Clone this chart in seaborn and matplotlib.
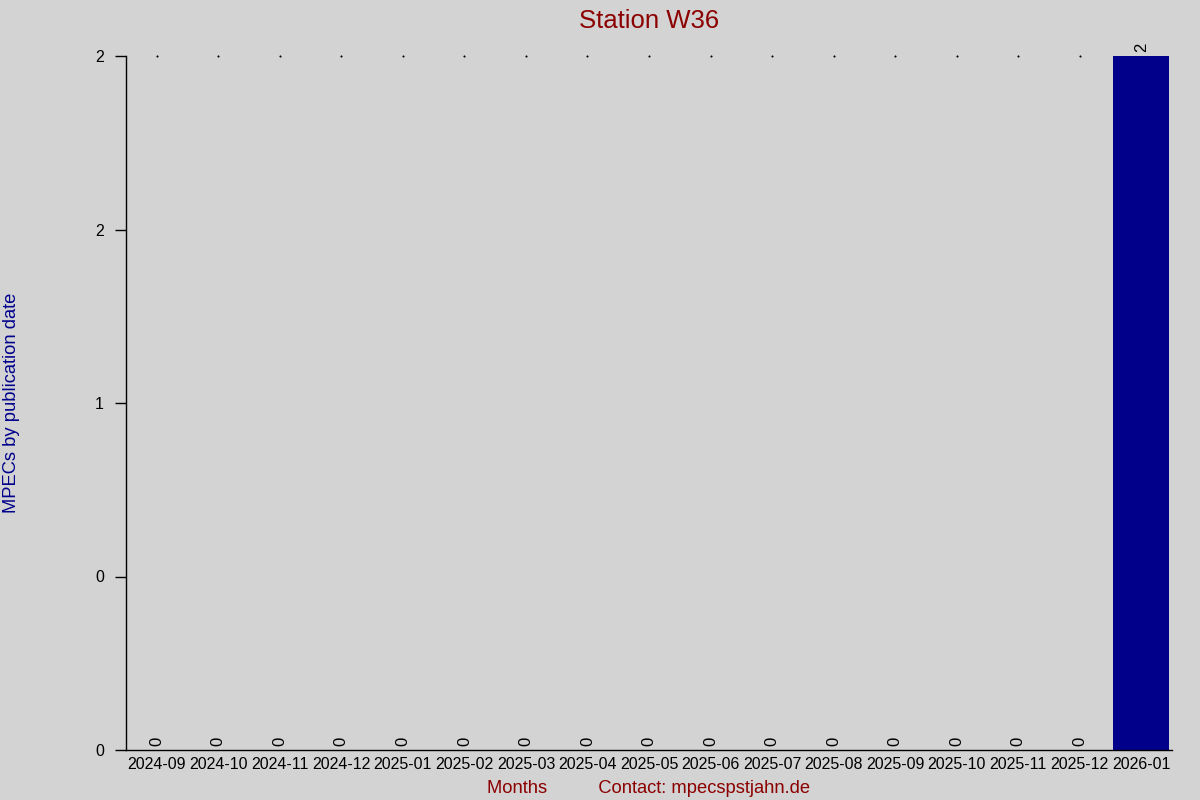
import matplotlib
matplotlib.use("Agg")
import matplotlib.pyplot as plt
import seaborn as sns
import pandas as pd
from matplotlib.ticker import FormatStrFormatter

months = ["2024-09", "2024-10", "2024-11", "2024-12", "2025-01", "2025-02",
          "2025-03", "2025-04", "2025-05", "2025-06", "2025-07", "2025-08",
          "2025-09", "2025-10", "2025-11", "2025-12", "2026-01"]
counts = [0, 0, 0, 0, 0, 0, 0, 0, 0, 0, 0, 0, 0, 0, 0, 0, 2]
yticks = [0, 0.5, 1.0, 1.5, 2.0]

title = "Station W36"
ylabel = "MPECs by publication date"
xlabel = "Months          Contact: mpecspstjahn.de"

bg = "#D3D3D3"
bar_color = "#00008B"
red = "#8B0000"

sns.set_theme(style="white")
plt.rcParams["font.family"] = ["Liberation Sans", "DejaVu Sans"]

df = pd.DataFrame({"month": months, "count": counts})

fig = plt.figure(figsize=(12, 8), dpi=100, facecolor=bg)
ax = fig.add_axes([126 / 1200, 1 - 750 / 800, (1172 - 126) / 1200, (750 - 56) / 800])
ax.set_facecolor(bg)

sns.barplot(data=df, x="month", y="count", color=bar_color, width=0.91,
            saturation=1, linewidth=0, ax=ax)

ymax = max(counts)
ax.set_ylim(0, ymax)
ax.set_xlim(-0.5, len(months) - 0.5)

for c in ax.containers:
    labels = ax.bar_label(c, labels=[str(v) for v in counts], rotation=90,
                          padding=3, fontsize=12, color="black")
    for t in labels:
        t.set_clip_on(False)

# tiny marker dots at the top level for empty months
zero_idx = [i for i, v in enumerate(counts) if v == 0]
ax.plot(zero_idx, [ymax] * len(zero_idx), linestyle="none", marker="s",
        markersize=0.5, color="black", clip_on=False)

ax.set_yticks(yticks)
ax.yaxis.set_major_formatter(FormatStrFormatter("%.0f"))
ax.tick_params(axis="y", direction="out", length=8, width=1, color="black",
               labelsize=11.5, labelcolor="black", pad=8, left=True)
ax.tick_params(axis="x", length=0, labelsize=11.5, labelcolor="black", pad=5)

for s in ["top", "right"]:
    ax.spines[s].set_visible(False)
for s in ["left", "bottom"]:
    ax.spines[s].set_color("black")
    ax.spines[s].set_linewidth(1)

ax.set_title(title, color=red, fontsize=18.5, pad=20)
ax.set_xlabel(xlabel, color=red, fontsize=13.2, labelpad=6)
ax.set_ylabel(ylabel, color=bar_color, fontsize=13.2)
ax.yaxis.set_label_coords(-106 / 1046, 0.5)

fig.savefig("out.png", dpi=100, facecolor=bg)
